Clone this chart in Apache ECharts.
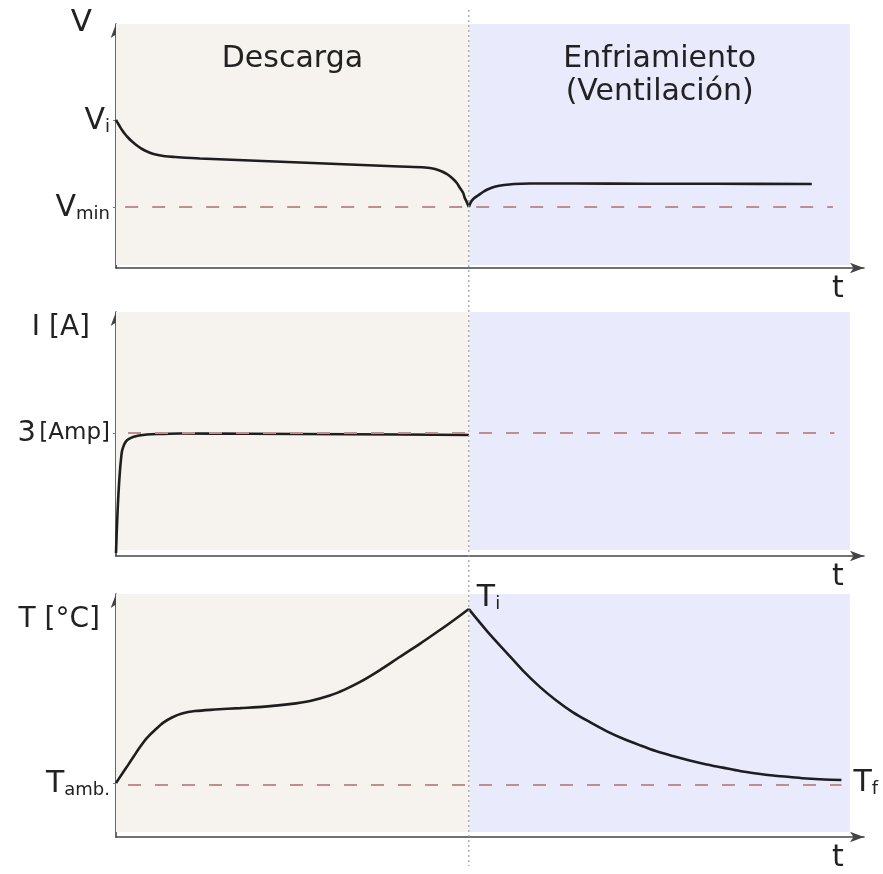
<!DOCTYPE html>
<html>
<head>
<meta charset="utf-8">
<script src="https://cdn.jsdelivr.net/npm/echarts@6/dist/echarts.min.js"></script>
<style>
  html, body { margin: 0; padding: 0; background: #fff; }
  #chart { width: 883px; height: 874px; }
</style>
</head>
<body>
<div id="chart"></div>
<script>
// eje de tiempo común: 0 = inicio, 50 = fin de la descarga
const tMax = 106
const tSwitch = 50
const tShadeEnd = 104

// panel V (tensión)
const vDischargeT = [0, 0.42, 0.85, 1.27, 1.7, 2.12, 2.69, 3.26, 3.82, 4.39, 5.1, 5.95, 6.94, 8.36, 11.9, 19, 26.1, 33.1, 40.2, 43.8, 45.2, 46.2, 47, 47.7, 48.3, 48.7, 49.2, 49.4, 49.7, 50]
const vDischargeV = [59.2, 57.2, 55.2, 53.6, 52.2, 51, 49.6, 48.4, 47.4, 46.6, 45.8, 45.2, 44.7, 44.4, 43.8, 43, 42.2, 41.4, 40.6, 40.2, 39.6, 38.6, 37.4, 35.8, 34, 32.2, 30, 28.2, 26.4, 24.4]
const vCoolT = [50, 50.3, 50.7, 51.3, 52, 52.8, 53.8, 55, 56.4, 58.6, 65, 75, 85, 98.6]
const vCoolV = [24.4, 26.4, 27.8, 29, 30.4, 31.6, 32.6, 33.2, 33.6, 33.8, 33.8, 33.7, 33.7, 33.6]
const vLevels = [59.2, 24.4]
const vLevelNames = ['{b|V}{s|i}', '{b|V}{s|min}']
const vMin = 24.4

// panel I (corriente)
const iT = [0, 0.14, 0.28, 0.42, 0.57, 0.71, 0.85, 1.13, 1.42, 1.84, 2.41, 3.26, 4.39, 6.23, 9.07, 19, 33.1, 50]
const iA = [1.2, 12.5, 21.4, 28.6, 34.7, 39.1, 42.3, 44.8, 46.2, 47.2, 48, 48.6, 49, 49.2, 49.4, 49.3, 49.1, 48.8]
const iLevels = [49.6]
const iLevelNames = ['{n|3} {u|[Amp]}']
const iRef = 49.6

// panel T (temperatura)
const tHeatT = [0, 0.85, 1.7, 2.55, 3.4, 4.39, 5.52, 6.66, 7.93, 9.35, 11.2, 14, 17.6, 21.1, 24.6, 27.5, 30.3, 32.4, 34.6, 37.4, 40.2, 43.1, 45.9, 48, 50]
const tHeatC = [21.9, 25.5, 29.1, 32.8, 36.4, 40.1, 43.3, 46.2, 48.4, 50, 51, 51.6, 52.2, 52.8, 53.8, 55.1, 57.3, 59.7, 62.8, 67.6, 72.9, 78.3, 83.8, 88.1, 92.3]
const tCoolT = [50, 52.7, 55.4, 57.6, 60.1, 62.3, 64.7, 67.1, 69.5, 71.8, 74.2, 76.5, 78.9, 81.3, 83.7, 86, 88.4, 90.8, 93.1, 95.5, 97.9, 100.4, 102.8]
const tCoolC = [92.3, 83, 74.5, 67.6, 60.7, 55.5, 50.6, 46.6, 42.9, 39.9, 37.2, 34.8, 32.8, 31, 29.4, 28.1, 26.7, 25.7, 24.9, 24.3, 23.7, 23.3, 23.1]
const tLevels = [21.6]
const tLevelNames = ['{b|T}{s|amb.}']
const tAmb = 21.3

const beige = '#f6f2ee'
const lavender = '#eaeafd'
const curveColor = '#1e1e1e'
const dashColor = '#c08e8e'
const axisColor = '#444'

const chart = echarts.init(document.getElementById('chart'))

const pair = (xs, ys) => xs.map((x, i) => [x, ys[i]])

const richText = {
  b: { fontSize: 30, color: '#222', fontFamily: 'DejaVu Sans', lineHeight: 32, verticalAlign: 'bottom' },
  s: { fontSize: 18, color: '#222', fontFamily: 'DejaVu Sans', lineHeight: 24, verticalAlign: 'bottom' },
  n: { fontSize: 29, color: '#222', fontFamily: 'DejaVu Sans', lineHeight: 30 },
  u: { fontSize: 23, color: '#222', fontFamily: 'DejaVu Sans', lineHeight: 30 }
}

const grids = [
  { left: 116, top: 24, width: 748, height: 244 },
  { left: 116, top: 312, width: 748, height: 244 },
  { left: 116, top: 594, width: 748, height: 243 }
]
const yMaxes = [97.6, 98.4, 98.4]
const shadeLow = [1.2, 2.4, 2.0]
const yNames = ['V', 'I [A]', 'T [°C]']
const yNameGaps = [1, -16, -26]
const yNamePads = [24, 26, 16]
const levelSets = [vLevels, iLevels, tLevels]
const levelNames = [vLevelNames, iLevelNames, tLevelNames]

const xAxes = grids.map((g, k) => ({
  type: 'value', gridIndex: k, min: 0, max: tMax,
  name: 't', nameLocation: 'end', nameGap: -26,
  nameTextStyle: { fontSize: 30, color: '#222', fontFamily: 'DejaVu Sans', align: 'center', verticalAlign: 'top', padding: [6, 0, 0, 0] },
  axisLine: { show: true, symbol: ['none', 'arrow'], symbolSize: [8, 14], lineStyle: { color: axisColor, width: 1.6 } },
  axisTick: { show: false }, axisLabel: { show: false }, splitLine: { show: false }
}))

const yAxes = grids.map((g, k) => ({
  type: 'value', gridIndex: k, min: 0, max: yMaxes[k],
  name: yNames[k], nameLocation: 'end', nameGap: yNameGaps[k],
  nameTextStyle: { fontSize: k === 0 ? 31 : 28, color: '#222', fontFamily: 'DejaVu Sans', align: 'right', verticalAlign: 'middle', padding: [0, yNamePads[k], 0, 0] },
  axisLine: { show: true, symbol: ['none', 'arrow'], symbolSize: [8, 14], lineStyle: { color: axisColor, width: 1.6 } },
  axisTick: { show: true, length: 3, customValues: levelSets[k], lineStyle: { color: '#777' } },
  axisLabel: {
    show: true, margin: 6, customValues: levelSets[k], rich: richText,
    formatter: (v) => {
      const idx = levelSets[k].findIndex(l => Math.abs(l - v) < 0.01)
      return idx >= 0 ? levelNames[k][idx] : ''
    }
  },
  splitLine: { show: false }
}))

const shade = (k, withText) => ({
  silent: true,
  data: [
    [{ name: withText ? 'Descarga' : '', xAxis: 0, yAxis: shadeLow[k], itemStyle: { color: beige } },
     { xAxis: tSwitch, yAxis: yMaxes[k] }],
    [{ name: withText ? 'Enfriamiento\n(Ventilación)' : '', xAxis: tSwitch + 0.1, yAxis: shadeLow[k], itemStyle: { color: lavender } },
     { xAxis: tShadeEnd, yAxis: yMaxes[k] }]
  ],
  label: {
    show: withText, position: 'insideTop', distance: 19,
    fontSize: 30, lineHeight: 33, color: '#222', fontFamily: 'DejaVu Sans'
  }
})

const dash = (y, x0, x1) => ({
  silent: true, symbol: 'none', label: { show: false },
  lineStyle: { color: dashColor, type: [13, 14], width: 2 },
  data: [[{ coord: [x0, y] }, { coord: [x1, y] }]]
})

const curve = (k, data, extra) => Object.assign({
  type: 'line', xAxisIndex: k, yAxisIndex: k, data,
  smooth: 0.3, showSymbol: false, symbol: 'none',
  lineStyle: { color: curveColor, width: 2.6 }, z: 3
}, extra || {})

const option = {
  backgroundColor: '#fff',
  animation: false,
  grid: grids,
  xAxis: xAxes,
  yAxis: yAxes,
  series: [
    curve(0, pair(vDischargeT, vDischargeV), { markArea: shade(0, true), markLine: dash(vMin, 1.3, 101.6) }),
    curve(0, pair(vCoolT, vCoolV)),
    curve(1, pair(iT, iA), { markArea: shade(1, false), markLine: dash(iRef, 1.7, 101.8) }),
    curve(2, pair(tHeatT, tHeatC), {
      markArea: shade(2, false), markLine: dash(tAmb, 1.7, 102.8),
      markPoint: {
        symbol: 'circle', symbolSize: 0,
        data: [{ coord: [tSwitch, tHeatC[tHeatC.length - 1]] }],
        label: { show: true, position: [8, -28], formatter: '{b|T}{s|i}', rich: richText }
      }
    }),
    curve(2, pair(tCoolT, tCoolC), {
      endLabel: { show: true, distance: 12, offset: [0, 2], formatter: '{b|T}{s|f}', rich: richText }
    })
  ]
}

chart.setOption(option)

// línea punteada vertical que separa descarga y enfriamiento
const xPix = chart.convertToPixel({ xAxisIndex: 0 }, tSwitch)
chart.setOption({
  graphic: [{
    type: 'line', silent: true, z: 10,
    shape: { x1: xPix, y1: 10, x2: xPix, y2: 866 },
    style: { stroke: '#9a9a9a', lineWidth: 1.2, lineDash: [2, 3] }
  }]
})
</script>
</body>
</html>
